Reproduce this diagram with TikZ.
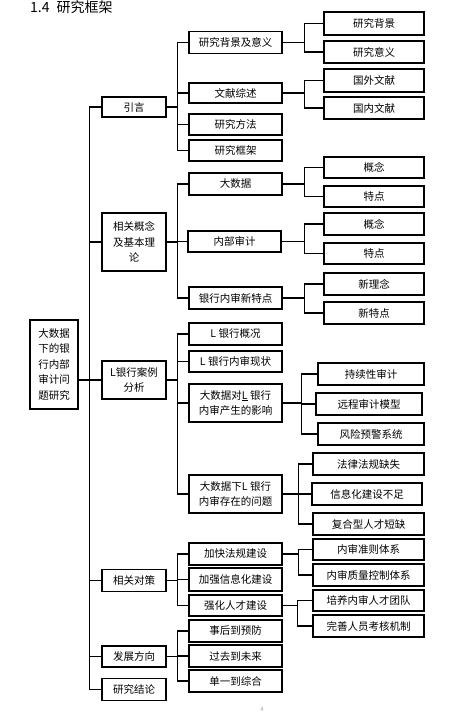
\documentclass[tikz,border=0pt]{standalone}
\usepackage{fontspec}
\setmainfont{Noto Sans CJK SC}

\begin{document}
\begin{tikzpicture}[x=1pt,y=-1pt,
  box/.style={draw,line width=1.5pt,inner sep=0pt,align=center,minimum height=22pt,
    font=\fontsize{10.5}{15.5}\selectfont},
  lone/.style={box,minimum width=64pt},
  ltwo/.style={box,minimum width=93pt},
  lthree/.style={box,minimum width=100pt},
  link/.style={line width=1.2pt}]
\useasboundingbox (0,0) rectangle (475,715);
\node[anchor=base west,inner sep=0pt,font=\fontsize{14}{14}\selectfont] (title) at (30,12) {1.4\hspace{7pt}研究框架};
% root
\node[box,minimum width=48pt,minimum height=89pt] (root) at (54,364.5) {大数据\\下的银\\行内部\\审计问\\题研究};
% first level
\node[lone,minimum height=20pt] (yin) at (134,107) {引言};
\node[lone,minimum height=58pt] (gn) at (134,242) {相关概念\\及基本理\\论};
\node[lone,minimum height=38pt] (al) at (134,380) {L银行案例\\分析};
\node[lone] (dc) at (134,580.5) {相关对策};
\node[lone,minimum height=21pt] (fz) at (134,656.5) {发展方向};
\node[lone] (jl) at (134,689.5) {研究结论};
% second level
\node[ltwo] (bj) at (235.5,42.5) {研究背景及意义};
\node[ltwo,minimum height=20pt] (wx) at (235.5,93) {文献综述};
\node[ltwo,minimum height=21pt] (ff) at (235.5,124.5) {研究方法};
\node[ltwo,minimum height=21pt] (kj) at (235.5,150.5) {研究框架};
\node[ltwo] (dsj) at (235.5,184) {大数据};
\node[ltwo,minimum height=21pt] (nb) at (234.5,241.5) {内部审计};
\node[ltwo] (xtd) at (235.5,298) {银行内审新特点};
\node[ltwo] (gk) at (235.5,334) {L 银行概况};
\node[ltwo,minimum height=21pt] (xz) at (235.5,361.5) {L 银行内审现状};
\node[ltwo,minimum height=38pt] (yx) at (235.5,403) {大数据对\underline{L} 银行\\内审产生的影响};
\node[ltwo,minimum height=38pt] (wt) at (235.5,494) {大数据下L 银行\\内审存在的问题};
\node[ltwo] (fg) at (235.5,554) {加快法规建设};
\node[ltwo,minimum height=23pt] (xxh) at (235.5,579.5) {加强信息化建设};
\node[ltwo,minimum height=21pt] (rc) at (235.5,605.5) {强化人才建设};
\node[ltwo] (sh) at (235.5,631) {事后到预防};
\node[ltwo] (gq) at (235.5,656) {过去到未来};
\node[ltwo] (dy) at (235.5,681) {单一到综合};
% third level
\node[lthree,minimum height=23pt] (bj1) at (374,23.5) {研究背景};
\node[lthree] (bj2) at (374,52) {研究意义};
\node[lthree,minimum height=23pt] (wx1) at (374,80.5) {国外文献};
\node[lthree] (wx2) at (374,108) {国内文献};
\node[lthree,minimum height=21pt] (dsj1) at (374,167.5) {概念};
\node[lthree,minimum height=21pt] (dsj2) at (374,196.5) {特点};
\node[lthree] (nb1) at (374,224) {概念};
\node[lthree,minimum height=21pt] (nb2) at (374,253.5) {特点};
\node[lthree] (xtd1) at (374,284) {新理念};
\node[lthree] (xtd2) at (374,313) {新特点};
\node[lthree,minimum width=106pt] (yx1) at (371,374) {持续性审计};
\node[lthree,minimum width=106pt] (yx2) at (369,404) {远程审计模型};
\node[lthree,minimum width=106pt] (yx3) at (371,434) {风险预警系统};
\node[lthree,minimum width=111pt] (wt1) at (368.5,464) {法律法规缺失};
\node[lthree,minimum width=110pt] (wt2) at (367,494) {信息化建设不足};
\node[lthree,minimum width=111pt] (wt3) at (368.5,524) {复合型人才短缺};
\node[lthree,minimum width=111pt,minimum height=21pt] (fg1) at (368.5,549.5) {内审准则体系};
\node[lthree,minimum width=111pt] (fg2) at (368.5,575) {内审质量控制体系};
\node[lthree,minimum width=111pt,minimum height=21pt] (rc1) at (368.5,600.5) {培养内审人才团队};
\node[lthree,minimum width=111pt] (rc2) at (368.5,626) {完善人员考核机制};
\node[font=\fontsize{6}{6}\selectfont,text=black!35] (pg) at (262,709) {4};
% connectors
\foreach \c in {yin,gn,al,dc,fz,jl} \draw[link] (root.east |- al.west) -- ++(11,0) |- (\c.west);
\foreach \c in {bj,wx,ff,kj} \draw[link] (yin.east) -- ++(11,0) |- (\c.west);
\foreach \c in {dsj,nb,xtd} \draw[link] (gn.east) -- ++(11,0) |- (\c.west);
\foreach \c in {gk,xz,yx,wt} \draw[link] (al.east) -- ++(11,0) |- (\c.west);
\foreach \c in {fg,xxh,rc} \draw[link] (dc.east) -- ++(11,0) |- (\c.west);
\foreach \c in {sh,gq,dy} \draw[link] (fz.east) -- ++(11,0) |- (\c.west);
\foreach \c in {bj1,bj2} \draw[link] (bj.east) -- ++(22,0) |- (\c.west);
\foreach \c in {wx1,wx2} \draw[link] (wx.east) -- ++(22,0) |- (\c.west);
\foreach \c in {dsj1,dsj2} \draw[link] (dsj.east) -- ++(22,0) |- (\c.west);
\foreach \c in {nb1,nb2} \draw[link] (nb.east) -- ++(23,0) |- (\c.west);
\foreach \c in {xtd1,xtd2} \draw[link] (xtd.east) -- ++(22,0) |- (\c.west);
\foreach \c in {yx1,yx2,yx3} \draw[link] (yx.east) -- ++(19,0) |- (\c.west);
\foreach \c in {wt1,wt2,wt3} \draw[link] (wt.east) -- ++(16,0) |- (\c.west);
\foreach \c in {fg1,fg2} \draw[link] (fg.east) -- ++(16,0) |- (\c.west);
\foreach \c in {rc1,rc2} \draw[link] (rc.east) -- ++(15,0) |- (\c.west);
\end{tikzpicture}
\end{document}
